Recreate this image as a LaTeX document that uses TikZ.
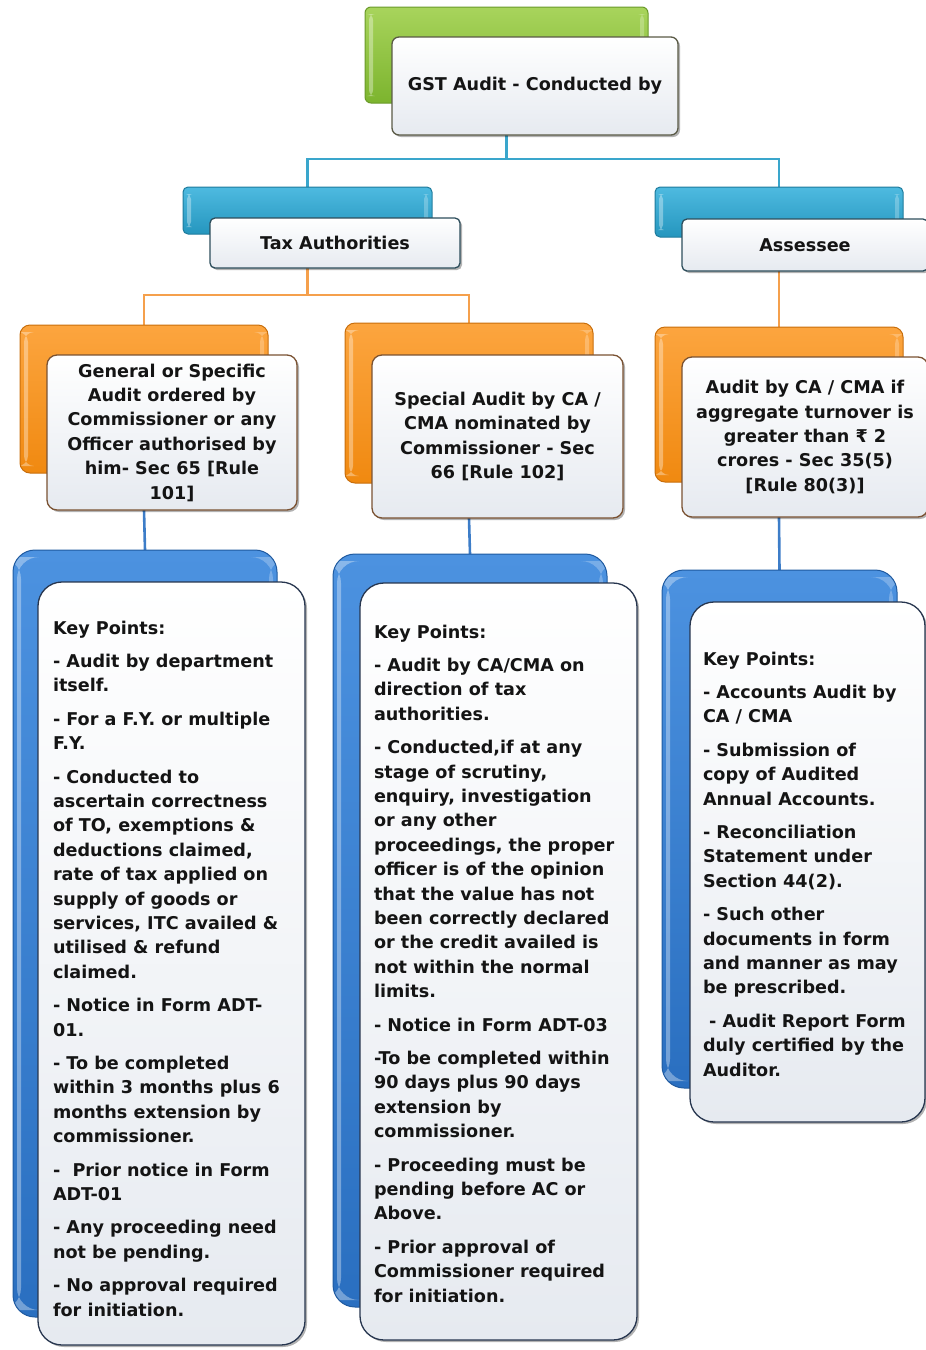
\documentclass[tikz,border=0pt]{standalone}
\usepackage{fontspec}
\setmainfont{DejaVu Sans}
\usetikzlibrary{shadows}
\definecolor{txt}{HTML}{141414}
\definecolor{grT}{HTML}{A8D45C}\definecolor{grB}{HTML}{7CB42E}\definecolor{grD}{HTML}{6A9A2A}
\definecolor{tlT}{HTML}{4EBAE0}\definecolor{tlB}{HTML}{2596BE}\definecolor{tlD}{HTML}{1E7B9C}
\definecolor{orT}{HTML}{FCA53F}\definecolor{orB}{HTML}{F08910}\definecolor{orD}{HTML}{C86E0C}
\definecolor{blT}{HTML}{4C92E0}\definecolor{blB}{HTML}{2A6FC0}\definecolor{blD}{HTML}{1F5AA0}
\definecolor{frB}{HTML}{E6EAF0}
\definecolor{gstE}{HTML}{5A5A46}\definecolor{tlE}{HTML}{2E4E5C}\definecolor{orE}{HTML}{7A5232}\definecolor{blE}{HTML}{27364F}
\definecolor{lnT}{HTML}{3AA6CC}\definecolor{lnO}{HTML}{F5A04C}\definecolor{lnB}{HTML}{3D7DC8}
\pgfdeclarelayer{bg}\pgfsetlayers{bg,main}
\begin{document}
\begin{tikzpicture}[x=1pt,y=-1pt,
  every node/.style={font=\bfseries\fontsize{17.6}{24.4}\selectfont, text=txt, outer sep=0pt},
  gloss/.style={path picture={
    \fill[white,opacity=.35] ([xshift=4pt,yshift=-7pt]path picture bounding box.north west) rectangle ([xshift=8pt,yshift=7pt]path picture bounding box.south west);
    \fill[white,opacity=.25] ([xshift=-8pt,yshift=-7pt]path picture bounding box.north east) rectangle ([xshift=-4pt,yshift=7pt]path picture bounding box.south east);}},
  greenback/.style={rectangle, rounded corners=6pt, draw=grD, line width=1pt, top color=grT, bottom color=grB, gloss, inner sep=0pt},
  tealback/.style={rectangle, rounded corners=5pt, draw=tlD, line width=1pt, top color=tlT, bottom color=tlB, gloss, inner sep=0pt},
  orangeback/.style={rectangle, rounded corners=10pt, draw=orD, line width=1pt, top color=orT, bottom color=orB, gloss, inner sep=0pt},
  blueback/.style={rectangle, rounded corners=22pt, draw=blD, line width=1pt, top color=blT, bottom color=blB, gloss, inner sep=0pt},
  front/.style={rectangle, line width=1.3pt, top color=white, bottom color=frB, inner sep=2pt, align=center,
    drop shadow={shadow xshift=2pt, shadow yshift=-2pt, opacity=.3, fill=black}},
  gstfront/.style={front, draw=gstE, rounded corners=7pt},
  tealfront/.style={front, draw=tlE, rounded corners=5pt},
  orangefront/.style={front, draw=orE, rounded corners=10pt},
  bluefront/.style={front, draw=blE, rounded corners=24pt},
  keytext/.style={anchor=west, align=left, inner sep=0pt},
  tline/.style={draw=lnT, line width=2.6pt},
  oline/.style={draw=lnO, line width=2.6pt},
  bline/.style={draw=lnB, line width=2.6pt}
]
\useasboundingbox (0,0) rectangle (926,1350);

% ---------- level 0
\node[greenback, minimum width=283pt, minimum height=96pt] (gstB) at (506.5,55) {};
\node[gstfront, minimum width=286pt, minimum height=98pt, text depth=4pt] (gstF) at (535,86) {GST Audit - Conducted by};

% ---------- level 1
\node[tealback, minimum width=249pt, minimum height=47pt] (taB) at (307.5,210.5) {};
\node[tealfront, minimum width=250pt, minimum height=50pt] (taF) at (335,243) {Tax Authorities};
\node[tealback, minimum width=248pt, minimum height=50pt] (asB) at (779,212) {};
\node[tealfront, minimum width=246pt, minimum height=52pt] (asF) at (805,245) {Assessee};

% ---------- level 2
\node[orangeback, minimum width=248pt, minimum height=148pt] (o1B) at (144,399) {};
\node[orangefront, minimum width=250pt, minimum height=155pt] (o1F) at (172,432.5)
  {General or Specific\\Audit ordered by\\Commissioner or any\\Officer authorised by\\him- Sec 65 [Rule\\101]};
\node[orangeback, minimum width=248pt, minimum height=160pt] (o2B) at (469,403) {};
\node[orangefront, minimum width=251pt, minimum height=163pt] (o2F) at (497.5,436.5)
  {Special Audit by CA /\\CMA nominated by\\Commissioner - Sec\\66 [Rule 102]};
\node[orangeback, minimum width=248pt, minimum height=155pt] (o3B) at (779,404.5) {};
\node[orangefront, minimum width=246pt, minimum height=160pt] (o3F) at (805,437)
  {Audit by CA / CMA if\\aggregate turnover is\\greater than ₹ 2\\crores - Sec 35(5)\\{}[Rule 80(3)]};

% ---------- level 3
\node[blueback, minimum width=264pt, minimum height=767pt] (k1B) at (145,933.5) {};
\node[bluefront, minimum width=267pt, minimum height=763pt] (k1F) at (171.5,963.5) {};
\node[keytext] (k1T) at ([xshift=15pt,yshift=-5pt]k1F.west) {Key Points:\\[9pt]
- Audit by department\\itself.\\[9pt]
- For a F.Y. or multiple\\F.Y.\\[9pt]
- Conducted to\\ascertain correctness\\of TO, exemptions \&\\deductions claimed,\\rate of tax applied on\\supply of goods or\\services, ITC availed \&\\utilised \& refund\\claimed.\\[9pt]
- Notice in Form ADT-\\01.\\[9pt]
- To be completed\\within 3 months plus 6\\months extension by\\commissioner.\\[9pt]
-\ \ Prior notice in Form\\ADT-01\\[9pt]
- Any proceeding need\\not be pending.\\[9pt]
- No approval required\\for initiation.};

\node[blueback, minimum width=274pt, minimum height=753pt] (k2B) at (470,930.5) {};
\node[bluefront, minimum width=277pt, minimum height=757pt] (k2F) at (498.5,961.5) {};
\node[keytext] (k2T) at ([xshift=14pt,yshift=-2pt]k2F.west) {Key Points:\\[9pt]
- Audit by CA/CMA on\\direction of tax\\authorities.\\[9pt]
- Conducted,if at any\\stage of scrutiny,\\enquiry, investigation\\or any other\\proceedings, the proper\\officer is of the opinion\\that the value has not\\been correctly declared\\or the credit availed is\\not within the normal\\limits.\\[9pt]
- Notice in Form ADT-03\\[9pt]
-To be completed within\\90 days plus 90 days\\extension by\\commissioner.\\[9pt]
- Proceeding must be\\pending before AC or\\Above.\\[9pt]
- Prior approval of\\Commissioner required\\for initiation.};

\node[blueback, minimum width=235pt, minimum height=518pt] (k3B) at (779.5,829) {};
\node[bluefront, minimum width=235pt, minimum height=520pt] (k3F) at (807.5,862) {};
\node[keytext] (k3T) at ([xshift=13pt,yshift=-2pt]k3F.west) {Key Points:\\[9pt]
- Accounts Audit by\\CA / CMA\\[9pt]
- Submission of\\copy of Audited\\Annual Accounts.\\[9pt]
- Reconciliation\\Statement under\\Section 44(2).\\[9pt]
- Such other\\documents in form\\and manner as may\\be prescribed.\\[9pt]
\ - Audit Report Form\\duly certified by the\\Auditor.};

% ---------- connectors
\begin{pgfonlayer}{bg}
\draw[tline] (gstB.center |- gstF.south) -- ++(0,24) -| (taB.north);
\draw[tline] (gstB.center |- gstF.south) -- ++(0,24) -| (asB.north);
\draw[oline] (taB.center |- taF.south) -- ++(0,27) -| (o1B.north);
\draw[oline] (taB.center |- taF.south) -- ++(0,27) -| (o2B.north);
\draw[oline] (asB.center |- asF.south) -- (o3B.north);
\draw[bline] (o1B.center |- o1F.south) -- (k1B.north);
\draw[bline] (o2B.center |- o2F.south) -- (k2B.north);
\draw[bline] (o3B.center |- o3F.south) -- (k3B.north);
\end{pgfonlayer}
\end{tikzpicture}
\end{document}
